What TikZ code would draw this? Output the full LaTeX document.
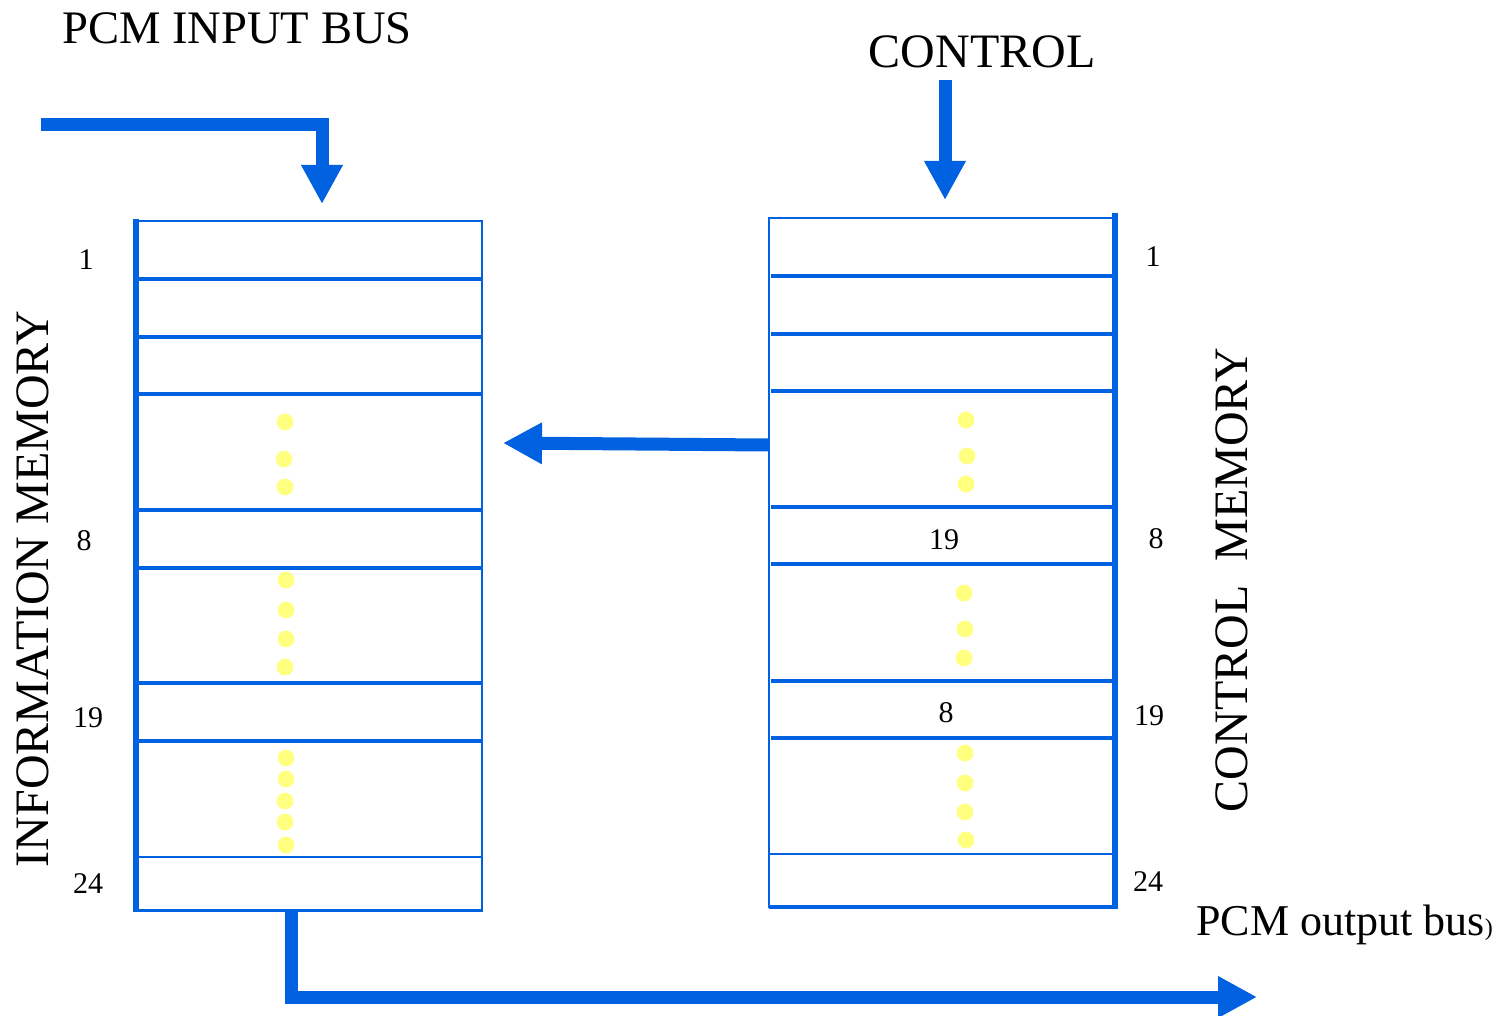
\documentclass[tikz,border=0pt]{standalone}
\usepackage{fontspec}
\setmainfont{Liberation Serif}
\usetikzlibrary{arrows.meta}
\definecolor{busblue}{RGB}{0,98,224}
\definecolor{dotyellow}{RGB}{255,255,128}
\begin{document}
\begin{tikzpicture}[x=0.5pt,y=-0.5pt,
  bus/.style={busblue, line width=6.5pt, line join=miter, -{Triangle[width=19.5pt,length=19.5pt]}},
  cellline/.style={busblue, line width=1.6pt},
  thinline/.style={busblue, line width=1pt},
  sideline/.style={busblue, line width=2.8pt},
  memframe/.style={draw=busblue, line width=1pt, inner sep=0pt, outer sep=0pt, anchor=north west},
  bigtxt/.style={font=\fontsize{24}{28}\selectfont, inner sep=0pt},
  numtxt/.style={font=\fontsize{15}{18}\selectfont, inner sep=0pt},
  ydot/.style={fill=dotyellow}
]
\useasboundingbox (0,0) rectangle (1508,1016);

% memories
\node[memframe, minimum width=173pt, minimum height=344.5pt] (im) at (136,221) {};
\node[memframe, minimum width=172pt, minimum height=344.5pt] (cm) at (769,218) {};

% information memory cells
\draw[sideline] (136,219) -- (136,912);
\foreach \yy in {279,337,394,510,568,683,741} \draw[cellline] (136,\yy) -- (482,\yy);
\draw[thinline] (136,857) -- (482,857);
\draw[cellline] (136,910.5) -- (483,910.5);

% control memory cells
\draw[sideline] (1115,213) -- (1115,909);
\foreach \yy in {276,334,391,507,564,681,738} \draw[cellline] (771,\yy) -- (1113,\yy);
\draw[thinline] (769,854) -- (1113,854);
\draw[cellline] (769,907) -- (1113,907);

% yellow dots
\foreach \xx/\yy in {285/422,284/459,285/487,286/580,286/610,286/639,285/667,286/758,286/779,285/801,285/822,286/845}
  \fill[ydot] (\xx,\yy) circle[radius=4.2pt];
\foreach \xx/\yy in {966/420,967/456,966/484,964/593,965/629,964/658,965/753,965/783,965/812,966/840}
  \fill[ydot] (\xx,\yy) circle[radius=4.2pt];

% cell contents
\node[numtxt] (c19) at (944,540) {19};
\node[numtxt] (c8) at (946,713) {8};

% side numbers
\node[numtxt] (l1) at (86,260) {1};
\node[numtxt] (l8) at (84,541) {8};
\node[numtxt] (l19) at (88,718) {19};
\node[numtxt] (l24) at (88,884) {24};
\node[numtxt] (r1) at (1153,257) {1};
\node[numtxt] (r8) at (1156,539) {8};
\node[numtxt] (r19) at (1149,716) {19};
\node[numtxt] (r24) at (1148,882) {24};

% titles
\node[bigtxt, anchor=base, font=\fontsize{23.3}{28}\selectfont] (tin) at (237,44) {PCM INPUT BUS};
\node[bigtxt, anchor=base] (tctl) at (982,68) {CONTROL};
\node[bigtxt, anchor=base west, font=\fontsize{22}{26}\selectfont] (tout) at (1196,935) {PCM output bus{\fontsize{12}{14}\selectfont)}};
\node[bigtxt, rotate=90] (tim) at (33,589) {INFORMATION MEMORY};
\node[bigtxt, rotate=90] (tcm) at (1232,580) {CONTROL\ \ MEMORY};

% buses
\coordinate (inStart) at (41,124.5);
\coordinate (inEnd) at (322,204);
\draw[bus] (inStart) -| (inEnd);

\coordinate (ctlStart) at (945,80);
\coordinate (ctlEnd) at (945,200);
\draw[bus] (ctlStart) -- (ctlEnd);

\coordinate (mStart) at (769,445);
\coordinate (mEnd) at (503,443);
\draw[bus] (mStart) -- (mEnd);

\coordinate (outStart) at (291,911);
\coordinate (outEnd) at (1257,997);
\draw[bus] (outStart) |- (outEnd);
\end{tikzpicture}
\end{document}
